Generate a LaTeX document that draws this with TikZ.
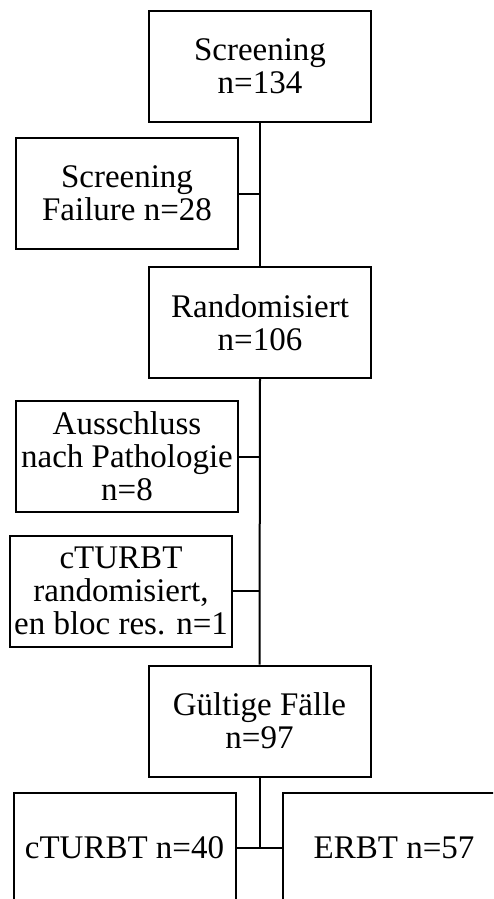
\documentclass[tikz,border=0pt]{standalone}
\usepackage{fontspec}
\setmainfont{Liberation Serif}
\usetikzlibrary{positioning,calc}

\begin{document}
\begin{tikzpicture}[x=1pt, y=-1pt, line width=2pt, font=\fontsize{33}{33}\selectfont,
    box/.style={draw, rectangle, minimum width=222pt, minimum height=111pt, inner sep=0pt, align=center}]
        \useasboundingbox (0,0) rectangle (493,899);
        \clip (0,0) rectangle (493,899);
        % main column
        \node[box] (scr)  at (260,66.5)  {Screening\\n=134};
        \node[box] (rand) at (260,322.5) {Randomisiert\\n=106};
        \node[box] (gult) at (259.5,721) {G\"ultige F\"alle\\n=97};
        % exclusions
        \node[box] (fail) at (127,193.5) {Screening\\Failure n=28};
        \node[box] (auss) at (127,456.5) {Ausschluss\\nach Pathologie\\n=8};
        \node[box] (ctr)  at (121,591)   {cTURBT\\randomisiert,\\en bloc res. n=1};
        % arms
        \node[box] (arma) at (124.5,848) {cTURBT n=40};
        \node[box] (armb) at (394,848)   {ERBT n=57};
       \draw (scr.south) -- (rand.north);
       \draw (rand.south) -- (gult.north);
       \draw (fail.east) -- (fail.east -| scr.south);
       \draw (auss.east) -- (auss.east -| rand.south);
       \draw (ctr.east) -- (ctr.east -| rand.south);
       \draw (gult.south) -- (gult.south |- arma.east);
       \draw (arma.east) -- (armb.west);
    \end{tikzpicture}
\end{document}
